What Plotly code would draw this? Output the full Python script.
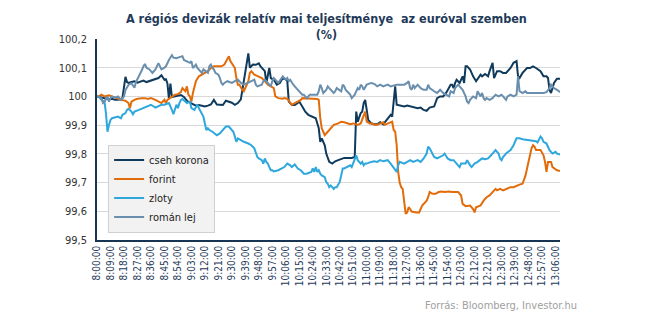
import plotly.graph_objects as go

# Minutes after 08:00 and relative value (%) against the euro
CSEH_KORONA = [(0,100.000),(3,99.996),(5,99.992),(8,99.990),(10,99.992),(12,99.988),(14,99.988),(16,99.990),(17,99.995),(18,100.030),(19,100.068),(20,100.050),(21,100.047),(23,100.050),(25,100.053),(27,100.048),(29,100.052),(31,100.055),(33,100.050),(35,100.053),(37,100.058),(39,100.060),(41,100.064),(43,100.074),(44,100.066),(45,100.058),(46,100.060),(47,100.045),(48,99.992),(49,100.045),(50,99.998),(52,100.000),(54,100.003),(56,100.005),(58,99.998),(60,99.985),(62,99.978),(64,99.972),(66,99.968),(68,99.970),(70,99.967),(72,99.965),(74,99.968),(76,99.972),(78,99.988),(80,99.972),(82,99.971),(84,99.970),(86,99.985),(88,99.982),(90,99.978),(92,99.971),(94,99.977),(96,99.990),(97,100.023),(99,100.076),(101,100.150),(102,100.100),(104,100.111),(106,100.110),(108,100.115),(109,100.105),(110,100.099),(112,100.088),(113,100.047),(115,100.099),(116,100.064),(118,100.058),(120,100.041),(122,100.047),(124,100.064),(126,100.060),(127,100.053),(128,99.982),(130,99.971),(132,99.970),(134,99.977),(135,99.982),(137,99.965),(139,99.947),(141,99.936),(144,99.930),(146,99.924),(148,99.889),(149,99.842),(150,99.854),(152,99.830),(153,99.801),(155,99.772),(157,99.766),(159,99.774),(161,99.778),(163,99.781),(165,99.786),(168,99.786),(170,99.786),(172,99.789),(173,99.947),(174,99.912),(176,99.942),(177,99.947),(178,99.977),(179,99.988),(180,99.953),(181,99.918),(183,99.906),(185,99.903),(187,99.903),(189,99.910),(191,99.903),(193,99.918),(196,99.936),(197,99.930),(198,99.982),(199,100.035),(200,99.971),(202,99.968),(205,99.965),(207,99.968),(209,99.965),(211,99.961),(214,99.959),(216,99.961),(218,99.953),(220,99.950),(222,99.961),(225,99.965),(226,99.982),(227,99.994),(229,100.000),(231,100.000),(233,100.012),(236,100.041),(237,100.041),(238,100.029),(239,100.047),(240,100.058),(242,100.047),(243,100.058),(244,100.070),(245,100.047),(246,100.105),(247,100.105),(249,100.094),(251,100.070),(253,100.053),(256,100.076),(257,100.070),(259,100.078),(261,100.070),(262,100.088),(264,100.117),(265,100.064),(267,100.088),(269,100.088),(271,100.082),(273,100.082),(276,100.099),(278,100.117),(280,100.123),(281,100.070),(282,100.064),(284,100.082),(287,100.099),(289,100.099),(291,100.105),(293,100.099),(296,100.088),(298,100.070),(300,100.070),(301,100.064),(302,100.023),(303,100.012),(305,100.047),(307,100.062),(309,100.062)]

FORINT = [(0,100.000),(1,100.000),(3,100.006),(5,100.000),(8,100.004),(10,100.000),(12,99.996),(14,99.992),(16,99.988),(19,99.985),(21,99.977),(22,99.959),(23,99.982),(25,99.988),(27,99.992),(30,99.994),(32,99.994),(34,99.991),(36,99.994),(39,99.988),(41,99.982),(43,99.977),(45,99.988),(46,99.977),(47,99.988),(50,100.000),(52,100.006),(54,100.008),(56,100.015),(57,100.029),(59,100.018),(60,100.035),(61,100.006),(62,100.000),(63,99.982),(64,100.012),(66,100.053),(68,100.070),(70,100.076),(72,100.082),(74,100.088),(76,100.099),(78,100.105),(81,100.105),(83,100.105),(85,100.111),(87,100.129),(88,100.140),(89,100.123),(91,100.105),(92,100.099),(93,100.064),(94,100.041),(95,100.041),(96,100.029),(97,100.023),(98,100.018),(101,100.053),(102,100.082),(103,100.088),(105,100.076),(107,100.070),(110,100.064),(112,100.053),(114,100.041),(116,100.035),(118,100.029),(119,100.000),(121,99.994),(124,99.992),(125,99.994),(127,99.992),(129,99.977),(130,99.971),(132,99.977),(134,99.982),(136,99.988),(137,99.994),(140,99.994),(142,99.992),(144,99.992),(147,99.991),(148,99.988),(149,99.924),(150,99.889),(151,99.877),(152,99.865),(154,99.877),(155,99.883),(156,99.889),(158,99.901),(161,99.906),(163,99.912),(165,99.910),(167,99.906),(169,99.903),(171,99.906),(174,99.901),(176,99.906),(178,99.936),(179,99.947),(180,99.912),(182,99.906),(184,99.906),(185,99.901),(187,99.901),(189,99.906),(191,99.910),(192,99.901),(195,99.906),(197,99.912),(198,99.883),(199,99.877),(200,99.830),(201,99.737),(202,99.700),(203,99.684),(204,99.678),(205,99.643),(206,99.591),(207,99.596),(208,99.614),(209,99.608),(210,99.599),(213,99.596),(215,99.596),(217,99.620),(218,99.626),(220,99.637),(221,99.649),(222,99.667),(224,99.661),(226,99.661),(228,99.667),(230,99.669),(232,99.667),(235,99.669),(237,99.667),(239,99.667),(241,99.667),(243,99.655),(244,99.626),(246,99.618),(248,99.620),(249,99.620),(251,99.608),(252,99.596),(253,99.614),(256,99.620),(258,99.637),(260,99.649),(262,99.655),(264,99.667),(266,99.678),(267,99.673),(269,99.678),(271,99.673),(273,99.678),(276,99.684),(278,99.684),(280,99.690),(282,99.693),(284,99.696),(286,99.725),(287,99.749),(288,99.772),(289,99.795),(290,99.819),(291,99.830),(292,99.825),(293,99.813),(296,99.813),(298,99.795),(299,99.772),(300,99.737),(301,99.772),(302,99.772),(303,99.772),(304,99.754),(307,99.743),(309,99.740)]

ZLOTY = [(0,100.000),(1,100.000),(3,99.988),(5,99.982),(6,99.940),(7,99.877),(8,99.901),(9,99.918),(10,99.924),(12,99.926),(14,99.930),(16,99.924),(17,99.936),(19,99.942),(20,99.953),(21,99.957),(23,99.947),(24,99.938),(25,99.947),(28,99.953),(30,99.957),(32,99.961),(34,99.965),(36,99.971),(39,99.961),(41,99.965),(43,99.971),(45,99.971),(48,99.977),(50,99.953),(51,99.938),(53,99.971),(54,99.959),(55,99.977),(56,99.988),(57,99.991),(59,99.982),(60,99.977),(62,99.982),(63,99.959),(65,99.953),(66,99.965),(67,99.971),(68,99.959),(70,99.942),(71,99.930),(72,99.906),(73,99.883),(74,99.889),(75,99.883),(77,99.877),(80,99.865),(82,99.871),(84,99.883),(86,99.895),(88,99.895),(90,99.883),(91,99.877),(92,99.860),(93,99.842),(94,99.854),(96,99.848),(98,99.842),(101,99.836),(103,99.830),(105,99.819),(106,99.801),(107,99.789),(108,99.784),(110,99.778),(111,99.766),(112,99.784),(113,99.772),(114,99.766),(115,99.754),(116,99.743),(117,99.743),(118,99.739),(121,99.743),(123,99.749),(125,99.754),(127,99.766),(129,99.760),(130,99.754),(132,99.763),(134,99.749),(136,99.743),(138,99.731),(140,99.731),(143,99.737),(144,99.749),(145,99.737),(146,99.754),(147,99.737),(148,99.743),(149,99.731),(150,99.725),(152,99.719),(153,99.702),(154,99.696),(155,99.684),(156,99.690),(157,99.684),(158,99.678),(159,99.684),(160,99.684),(162,99.702),(163,99.731),(164,99.749),(165,99.749),(167,99.754),(169,99.760),(170,99.754),(171,99.766),(173,99.795),(174,99.778),(176,99.766),(177,99.772),(178,99.760),(179,99.766),(180,99.766),(183,99.772),(185,99.774),(187,99.772),(189,99.778),(191,99.774),(194,99.778),(196,99.766),(198,99.749),(200,99.737),(201,99.760),(202,99.772),(205,99.766),(207,99.772),(209,99.778),(211,99.772),(214,99.778),(216,99.772),(218,99.784),(220,99.801),(221,99.825),(222,99.819),(225,99.789),(227,99.784),(229,99.789),(231,99.795),(232,99.801),(234,99.784),(236,99.778),(238,99.778),(240,99.766),(242,99.754),(243,99.766),(246,99.766),(247,99.778),(248,99.766),(249,99.760),(250,99.754),(252,99.766),(254,99.772),(257,99.784),(259,99.781),(261,99.784),(263,99.795),(266,99.813),(267,99.807),(268,99.801),(269,99.784),(270,99.778),(271,99.789),(273,99.801),(276,99.813),(278,99.830),(280,99.854),(282,99.854),(284,99.851),(287,99.848),(289,99.848),(291,99.844),(293,99.844),(294,99.840),(296,99.860),(297,99.854),(298,99.842),(300,99.836),(302,99.813),(304,99.801),(306,99.807),(307,99.801),(309,99.798)]

ROMAN_LEJ = [(0,100.000),(2,99.996),(3,99.994),(4,99.977),(5,99.982),(7,100.000),(8,99.982),(9,99.994),(10,100.000),(12,99.996),(14,100.000),(16,99.988),(18,100.000),(19,100.022),(21,100.040),(23,100.046),(24,100.035),(25,100.030),(26,100.050),(28,100.069),(30,100.092),(31,100.105),(32,100.113),(33,100.100),(35,100.094),(37,100.082),(39,100.094),(41,100.116),(43,100.094),(45,100.100),(46,100.105),(48,100.127),(50,100.144),(51,100.135),(53,100.133),(55,100.137),(57,100.140),(58,100.127),(60,100.121),(62,100.117),(63,100.123),(64,100.099),(65,100.105),(66,100.111),(67,100.099),(69,100.088),(70,100.082),(71,100.094),(73,100.088),(74,100.082),(75,100.105),(76,100.111),(77,100.099),(78,100.094),(79,100.082),(81,100.076),(82,100.064),(83,100.047),(84,100.041),(85,100.047),(87,100.053),(90,100.047),(92,100.053),(94,100.058),(95,100.053),(96,100.047),(98,100.041),(101,100.047),(103,100.053),(105,100.058),(106,100.041),(107,100.035),(110,100.041),(111,100.053),(112,100.058),(114,100.047),(116,100.035),(117,100.053),(118,100.064),(121,100.047),(123,100.060),(124,100.070),(125,100.064),(126,100.058),(127,100.064),(128,100.053),(129,100.058),(130,100.047),(131,100.041),(133,100.029),(134,100.023),(135,100.018),(136,100.012),(137,100.006),(138,100.006),(139,100.000),(140,99.994),(141,100.000),(142,100.006),(145,100.006),(147,100.006),(148,100.018),(149,100.041),(150,100.029),(151,100.012),(153,100.023),(154,100.035),(155,100.029),(156,100.023),(157,100.018),(158,100.012),(159,100.018),(160,100.029),(163,100.018),(164,100.041),(165,100.035),(166,100.023),(168,100.012),(169,100.006),(170,99.994),(172,100.006),(174,100.029),(175,100.023),(176,100.041),(177,100.035),(178,100.023),(180,100.041),(183,100.047),(185,100.044),(187,100.035),(189,100.041),(191,100.035),(194,100.041),(196,100.035),(198,100.038),(200,100.041),(202,100.041),(205,100.041),(207,100.047),(208,100.053),(209,100.029),(210,100.023),(211,100.041),(212,100.029),(214,100.041),(216,100.029),(218,100.023),(220,100.023),(221,100.041),(222,100.029),(225,100.018),(227,100.012),(229,100.023),(231,100.012),(233,100.006),(235,100.000),(236,100.018),(238,100.012),(239,100.029),(240,100.035),(241,100.041),(244,100.023),(245,100.012),(246,100.000),(247,99.982),(248,99.977),(249,99.988),(251,100.000),(253,99.994),(254,100.018),(256,100.000),(257,100.012),(258,99.994),(259,99.988),(260,99.994),(262,99.988),(264,99.994),(266,100.006),(268,100.000),(270,100.006),(271,100.000),(273,99.988),(274,100.000),(276,100.006),(278,100.000),(280,100.006),(281,100.070),(282,100.018),(284,100.012),(286,100.018),(287,100.012),(289,100.012),(291,100.012),(293,100.012),(296,100.012),(298,100.012),(300,100.015),(302,100.029),(303,100.041),(304,100.035),(305,100.029),(307,100.023),(308,100.018),(309,100.015)]

SERIES_NAMES = ["cseh korona", "forint", "zloty", "román lej"]
SERIES_COLORS = ["#0f3a5c", "#e36c0a", "#2ea7dd", "#6a8fae"]

Y_TICKS = [99.5, 99.6, 99.7, 99.8, 99.9, 100.0, 100.1, 100.2]
X_TICK_MINUTES = list(range(0, 307, 9))

TITLE = "A régiós devizák relatív mai teljesítménye  az euróval szemben<br>(%)"
SOURCE = "Forrás: Bloomberg, Investor.hu"

FONT = "Tahoma, 'DejaVu Sans Condensed', 'Liberation Sans', sans-serif"


def clock(m):
    return f"{8 + m // 60}:{m % 60:02d}:00"


def decimal_comma(v):
    return f"{v:g}".replace(".", ",")


fig = go.Figure()
for name, color, data in zip(SERIES_NAMES, SERIES_COLORS,
                             [CSEH_KORONA, FORINT, ZLOTY, ROMAN_LEJ]):
    fig.add_trace(go.Scatter(
        x=[p[0] for p in data],
        y=[p[1] for p in data],
        mode="lines",
        name=name,
        line=dict(color=color, width=2),
    ))

fig.update_layout(
    width=645,
    height=326,
    margin=dict(l=97, r=85, t=39, b=86),
    paper_bgcolor="white",
    plot_bgcolor="white",
    font=dict(family=FONT, color="#333333"),
    showlegend=True,
    legend=dict(
        x=0.024,
        y=0.475,
        xanchor="left",
        yanchor="top",
        bgcolor="#f2f2f2",
        bordercolor="#d0d0d0",
        borderwidth=1,
        font=dict(family=FONT, size=11, color="#222222"),
        tracegroupgap=0,
        itemwidth=30,
    ),
    xaxis=dict(
        range=[0, 309],
        tickmode="array",
        tickvals=X_TICK_MINUTES,
        ticktext=[clock(m) for m in X_TICK_MINUTES],
        tickangle=-90,
        tickfont=dict(family=FONT, size=10, color="#1f3a5a"),
        showgrid=False,
        zeroline=False,
        showline=True,
        linecolor="#173552",
        linewidth=1.5,
        ticks="",
    ),
    yaxis=dict(
        range=[99.5, 100.2],
        tickmode="array",
        tickvals=Y_TICKS,
        ticktext=[decimal_comma(v) for v in Y_TICKS],
        tickfont=dict(family=FONT, size=11, color="#333333"),
        showgrid=True,
        gridcolor="#d9d9d9",
        gridwidth=1,
        zeroline=False,
        showline=True,
        linecolor="#173552",
        linewidth=1.5,
        ticks="",
        ticklabelstandoff=6,
    ),
    annotations=[
        dict(
            text=TITLE,
            xref="paper",
            yref="paper",
            x=0.495,
            y=1.15,
            xanchor="center",
            yanchor="top",
            showarrow=False,
            align="center",
            font=dict(family=FONT, size=12.5, color="#1f3a5a", weight="bold"),
        ),
        dict(
            text=SOURCE,
            xref="paper",
            yref="paper",
            x=1.04,
            y=-0.325,
            xanchor="right",
            yanchor="middle",
            showarrow=False,
            font=dict(family=FONT, size=11, color="#a0a0a0"),
        ),
    ],
)

fig.write_html("out.html")
